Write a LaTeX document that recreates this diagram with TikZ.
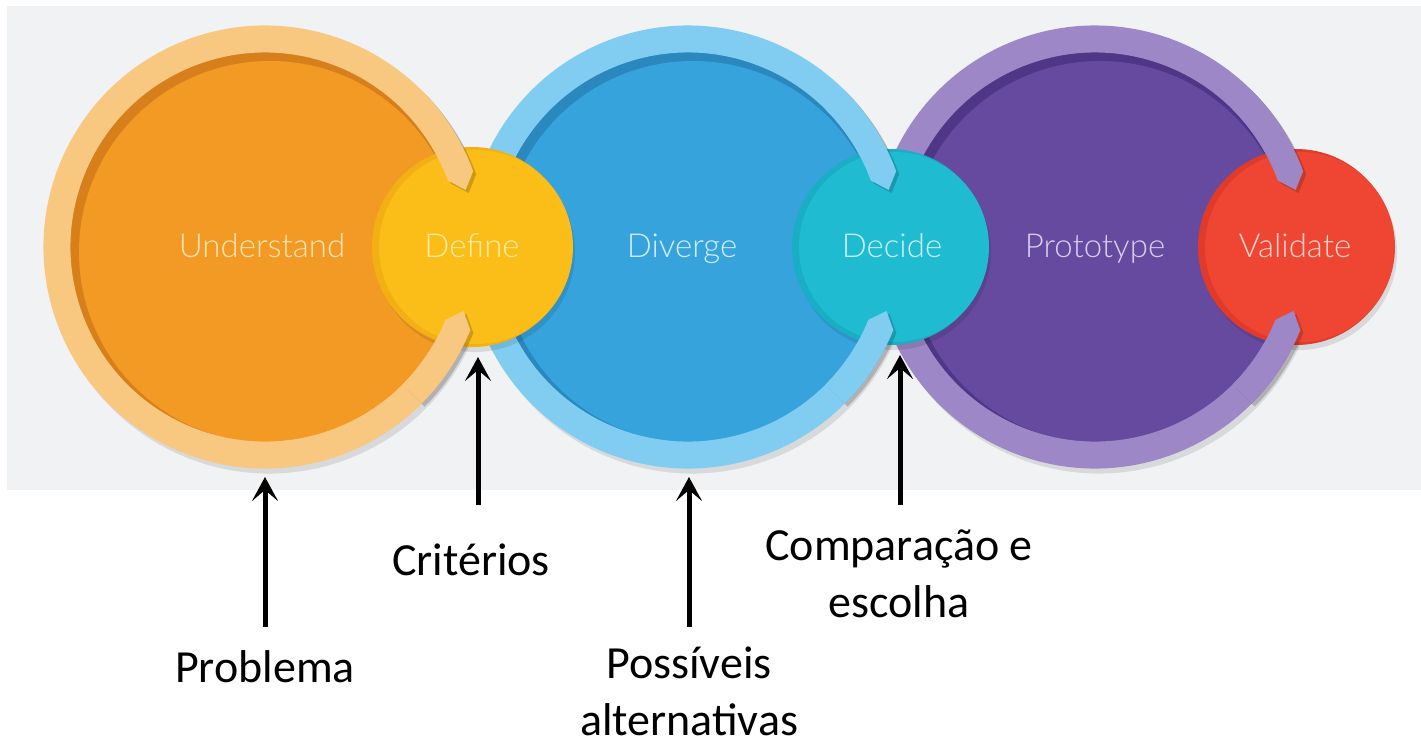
\documentclass[tikz,border=0pt]{standalone}
\usepackage{fontspec}
\setmainfont{Open Sans}
\newfontfamily\labfont{Carlito}
\newfontfamily\stagefont{Lato Light}
\usetikzlibrary{arrows.meta}
\definecolor{bggray}{HTML}{F1F2F4}
\definecolor{uRing}{HTML}{F9C880}
\definecolor{uMain}{HTML}{F39A25}
\definecolor{uDark}{HTML}{D7801B}
\definecolor{uText}{HTML}{FCE3B4}
\definecolor{dfMain}{HTML}{FBBD18}
\definecolor{dfDark}{HTML}{F2B014}
\definecolor{dfText}{HTML}{FDEBA6}
\definecolor{dvRing}{HTML}{80CDF1}
\definecolor{dvMain}{HTML}{36A3DD}
\definecolor{dvDark}{HTML}{2A88BF}
\definecolor{dvText}{HTML}{D2EDFA}
\definecolor{dcMain}{HTML}{1FBBD1}
\definecolor{dcDark}{HTML}{1AAEC4}
\definecolor{dcText}{HTML}{CBF2F7}
\definecolor{pRing}{HTML}{9D87C7}
\definecolor{pMain}{HTML}{664AA0}
\definecolor{pDark}{HTML}{503686}
\definecolor{pText}{HTML}{D9CEF0}
\definecolor{vMain}{HTML}{EF4634}
\definecolor{vDark}{HTML}{E03A2A}
\definecolor{vText}{HTML}{FCD4CD}
\newcommand\BigStage[4]{% #1 x, #2 ring, #3 main, #4 dark
  \draw[ringband, draw=black, draw opacity=0.10] ([shift={(20:208)}]#1+4,-252) arc[start angle=20,end angle=340,radius=208];
  \fill[#4] (#1,-247) circle[radius=196];
  \fill[#3] (#1+5,-252) circle[radius=191];
  \draw[ringband, draw=#2] ([shift={(20:208)}]#1,-247) arc[start angle=20,end angle=340,radius=208];
}
% pointed ends of a ring band; #1 x of centre, #2 y of centre, #3 colour/style
\newcommand\TipShapes[3]{%
  \fill[#3] ([shift={(45:221.5)}]#1,#2) arc[start angle=45,end angle=20,radius=221.5]
     -- ([shift={(20:208)},shift={(-70:15)}]#1,#2)
     -- ([shift={(20:194.5)}]#1,#2) arc[start angle=20,end angle=45,radius=194.5] -- cycle;
  \fill[#3] ([shift={(315:221.5)}]#1,#2) arc[start angle=315,end angle=338,radius=221.5]
     -- ([shift={(338:208)},shift={(68:15)}]#1,#2)
     -- ([shift={(338:194.5)}]#1,#2) arc[start angle=338,end angle=315,radius=194.5] -- cycle;
}
\newcommand\StageTips[2]{% #1 x, #2 ring
  \TipShapes{#1+3}{-250}{black, opacity=0.18}
  \TipShapes{#1}{-247}{#2}
}
\newcommand\SmallStage[4]{% #1 x, #2 radius, #3 main, #4 dark
  \fill[black, opacity=0.10] (#1+3,-252) circle[radius=#2];
  \fill[#4] (#1,-247) circle[radius=#2];
  \fill[#3] (#1+4,-247) circle[radius=#2-3];
}
\begin{document}
\begin{tikzpicture}[x=1pt,y=1pt,
  ringband/.style={line width=27pt},
  stage/.style={font=\stagefont\fontsize{33}{38}\selectfont, anchor=base, inner sep=0pt},
  lab/.style={font=\labfont\fontsize{46}{57}\selectfont, align=center, anchor=base, inner sep=0pt},
  pointer/.style={line width=5pt, -{Stealth[length=24pt,width=26pt,inset=11pt]}}]
\useasboundingbox (0,0) rectangle (1421,-748);
\fill[bggray] (7,-6) rectangle (1421,-490);
% big stages
\BigStage{265}{uRing}{uMain}{uDark}
\BigStage{688}{dvRing}{dvMain}{dvDark}
\BigStage{1095}{pRing}{pMain}{pDark}
% small stages
\SmallStage{472}{100}{dfMain}{dfDark}
\SmallStage{890}{98}{dcMain}{dcDark}
\SmallStage{1296}{98}{vMain}{vDark}
% arrow tips of the rings
\StageTips{265}{uRing}
\StageTips{688}{dvRing}
\StageTips{1095}{pRing}
% stage names
\node[stage, text=uText] (understand) at (262,-257) {Understand};
\node[stage, text=dfText] (define) at (472,-257) {Define};
\node[stage, text=dvText] (diverge) at (682,-257) {Diverge};
\node[stage, text=dcText] (decide) at (892,-257) {Decide};
\node[stage, text=pText] (prototype) at (1095,-257) {Prototype};
\node[stage, text=vText] (validate) at (1295,-257) {Validate};
% bottom labels (base = baseline of last line)
\node[lab] (problema) at (265,-682) {Problema};
\node[lab] (criterios) at (471,-575) {Critérios};
\node[lab] (possiveis) at (689,-735) {Possíveis\\alternativas};
\node[lab] (comparacao) at (899,-617) {Comparação e\\escolha};
% pointer ends
\coordinate (p1s) at (265,-627); \coordinate (p1e) at (265,-477);
\coordinate (p2s) at (478,-505); \coordinate (p2e) at (478,-357);
\coordinate (p3s) at (689,-627); \coordinate (p3e) at (689,-477);
\coordinate (p4s) at (900,-505); \coordinate (p4e) at (900,-355);
\draw[pointer] (p1s) -- (p1e);
\draw[pointer] (p2s) -- (p2e);
\draw[pointer] (p3s) -- (p3e);
\draw[pointer] (p4s) -- (p4e);
\end{tikzpicture}
\end{document}
